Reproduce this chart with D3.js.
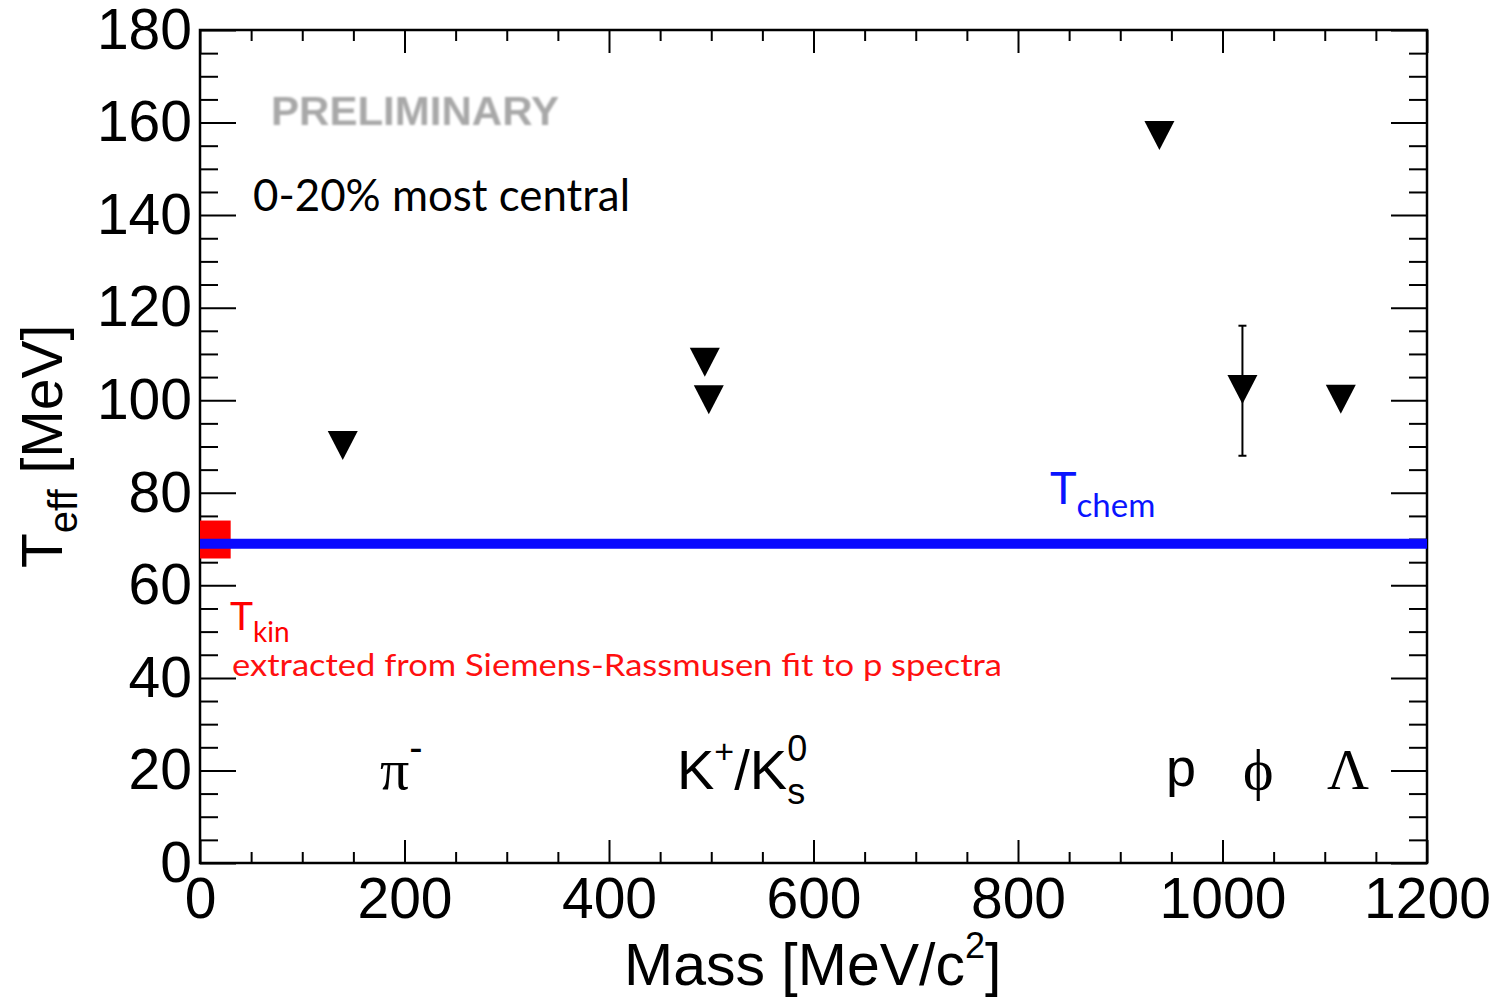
<!DOCTYPE html>
<html>
<head>
<meta charset="utf-8">
<script src="https://cdn.jsdelivr.net/npm/d3@7"></script>
<style>
  html, body { margin: 0; padding: 0; background: #fff; }
  svg { display: block; }
</style>
</head>
<body>
<svg id="chart"></svg>
<script>
// particle masses [MeV/c^2] and fitted effective temperatures [MeV]
const particles = ['pi-', 'K+', 'K0s', 'p', 'phi', 'Lambda'];
const masses = [139.6, 493.7, 497.6, 938.3, 1019.5, 1115.7];
const teff = [90.2, 108.2, 100.1, 157.2, 102.3, 100.2];
// only the phi has a visible error bar
const errLow = [null, null, null, null, 88.0, null];
const errHigh = [null, null, null, null, 116.1, null];

const tChem = 69.0;
const tKinBox = [0, 30, 65.8, 74.0]; // x0, x1, y0, y1

const xMajor = [0, 200, 400, 600, 800, 1000, 1200];
const yMajor = [0, 20, 40, 60, 80, 100, 120, 140, 160, 180];

const width = 1503, height = 999;
const svg = d3.select('#chart').attr('width', width).attr('height', height);

const x = d3.scaleLinear().domain([0, 1200]).range([200, 1427]);
const y = d3.scaleLinear().domain([0, 180]).range([863, 30]);

const sans = 'Liberation Sans, Arial, sans-serif';
const serif = 'Liberation Serif, Times New Roman, serif';
const cal = 'Lato, Open Sans, sans-serif';

// minor ticks
const xMinor = d3.range(0, 1201, 50).filter(v => v % 200 !== 0);
const yMinor = d3.range(0, 181, 5).filter(v => v % 20 !== 0);

function styleAxis(g) {
  g.select('.domain').remove();
  g.selectAll('.tick line').attr('stroke', '#000').attr('stroke-width', 2);
  g.selectAll('.tick text').attr('fill', '#000');
}

// bottom axis with labels
svg.append('g').attr('transform', `translate(0,${y(0)})`)
  .call(d3.axisBottom(x).tickValues(xMajor).tickFormat(d3.format('d'))
    .tickSizeInner(-23).tickSizeOuter(0).tickPadding(15))
  .call(styleAxis)
  .call(g => g.selectAll('.tick text').attr('font-family', sans).attr('font-size', 57));
svg.append('g').attr('transform', `translate(0,${y(0)})`)
  .call(d3.axisBottom(x).tickValues(xMinor).tickSizeInner(-11).tickSizeOuter(0).tickFormat(''))
  .call(styleAxis);
// top axis
svg.append('g').attr('transform', `translate(0,${y(180)})`)
  .call(d3.axisTop(x).tickValues(xMajor).tickSizeInner(-23).tickSizeOuter(0).tickFormat(''))
  .call(styleAxis);
svg.append('g').attr('transform', `translate(0,${y(180)})`)
  .call(d3.axisTop(x).tickValues(xMinor).tickSizeInner(-11).tickSizeOuter(0).tickFormat(''))
  .call(styleAxis);

// left axis with labels
svg.append('g').attr('transform', `translate(${x(0)},0)`)
  .call(d3.axisLeft(y).tickValues(yMajor).tickSizeInner(-36).tickSizeOuter(0).tickPadding(8))
  .call(styleAxis)
  .call(g => g.selectAll('.tick text').attr('font-family', sans).attr('font-size', 57));
svg.append('g').attr('transform', `translate(${x(0)},0)`)
  .call(d3.axisLeft(y).tickValues(yMinor).tickSizeInner(-18).tickSizeOuter(0).tickFormat(''))
  .call(styleAxis);
// right axis
svg.append('g').attr('transform', `translate(${x(1200)},0)`)
  .call(d3.axisRight(y).tickValues(yMajor).tickSizeInner(-36).tickSizeOuter(0).tickFormat(''))
  .call(styleAxis);
svg.append('g').attr('transform', `translate(${x(1200)},0)`)
  .call(d3.axisRight(y).tickValues(yMinor).tickSizeInner(-18).tickSizeOuter(0).tickFormat(''))
  .call(styleAxis);

// frame
svg.append('rect')
  .attr('x', x(0)).attr('y', y(180))
  .attr('width', x(1200) - x(0)).attr('height', y(0) - y(180))
  .attr('fill', 'none').attr('stroke', '#000').attr('stroke-width', 2.5);

// T_kin box and T_chem line
svg.append('rect')
  .attr('x', x(tKinBox[0])).attr('y', y(tKinBox[3]))
  .attr('width', x(tKinBox[1]) - x(tKinBox[0]))
  .attr('height', y(tKinBox[2]) - y(tKinBox[3]))
  .attr('fill', '#ff0000');

svg.append('line')
  .attr('x1', x(0)).attr('x2', x(1200))
  .attr('y1', y(tChem)).attr('y2', y(tChem))
  .attr('stroke', '#0a0aff').attr('stroke-width', 10);

// error bars
const data = particles.map((p, i) => ({ p, m: masses[i], t: teff[i], lo: errLow[i], hi: errHigh[i] }));
const eb = svg.append('g').attr('stroke', '#000').attr('stroke-width', 2);
data.filter(d => d.lo !== null).forEach(d => {
  eb.append('line').attr('x1', x(d.m)).attr('x2', x(d.m)).attr('y1', y(d.lo)).attr('y2', y(d.hi));
  eb.append('line').attr('x1', x(d.m) - 4).attr('x2', x(d.m) + 4).attr('y1', y(d.lo)).attr('y2', y(d.lo));
  eb.append('line').attr('x1', x(d.m) - 4).attr('x2', x(d.m) + 4).attr('y1', y(d.hi)).attr('y2', y(d.hi));
});

// downward triangle markers (30 wide, 29 high)
const triDown = {
  draw(ctx, size) {
    const w = 15, h = 14.5;
    ctx.moveTo(-w, -h);
    ctx.lineTo(w, -h);
    ctx.lineTo(0, h);
    ctx.closePath();
  }
};
svg.append('g').selectAll('path').data(data).join('path')
  .attr('transform', d => `translate(${x(d.m)},${y(d.t)})`)
  .attr('d', d3.symbol().type(triDown))
  .attr('fill', '#000');

// axis titles
svg.append('text')
  .attr('x', 624).attr('y', 985)
  .attr('font-family', sans).attr('font-size', 59).attr('fill', '#000')
  .call(t => {
    t.append('tspan').text('Mass [MeV/c');
    t.append('tspan').attr('font-size', 36).attr('dy', -27).text('2');
    t.append('tspan').attr('dy', 27).text(']');
  });

svg.append('text')
  .attr('transform', 'translate(62,568) rotate(-90)')
  .attr('font-family', sans).attr('font-size', 57).attr('fill', '#000')
  .call(t => {
    t.append('tspan').text('T');
    t.append('tspan').attr('font-size', 40).attr('dy', 15).text('eff');
    t.append('tspan').attr('dy', -15).text(' [MeV]');
  });

// PRELIMINARY watermark
const defs = svg.append('defs');
defs.append('filter').attr('id', 'blur').append('feGaussianBlur').attr('stdDeviation', 1.1);
svg.append('text')
  .attr('x', 271).attr('y', 125)
  .attr('font-family', sans).attr('font-weight', 'bold').attr('font-size', 40)
  .attr('fill', '#a8a8a8').attr('filter', 'url(#blur)')
  .attr('textLength', 288).attr('lengthAdjust', 'spacingAndGlyphs')
  .text('PRELIMINARY');

svg.append('text')
  .attr('x', 253).attr('y', 211)
  .attr('font-family', cal).attr('font-size', 44).attr('fill', '#000')
  .attr('textLength', 377).attr('lengthAdjust', 'spacingAndGlyphs')
  .text('0-20% most central');

// T_chem label
svg.append('text')
  .attr('x', 1050).attr('y', 504)
  .attr('font-family', cal).attr('font-size', 45).attr('fill', '#0a14ff')
  .call(t => {
    t.append('tspan').text('T');
    t.append('tspan').attr('font-size', 33).attr('dy', 13).text('chem');
  });

// T_kin label
svg.append('text')
  .attr('x', 230).attr('y', 630)
  .attr('font-family', cal).attr('font-size', 39).attr('fill', '#ff0000')
  .call(t => {
    t.append('tspan').text('T');
    t.append('tspan').attr('font-size', 28).attr('dy', 12).text('kin');
  });
svg.append('text')
  .attr('x', 232).attr('y', 676)
  .attr('font-family', cal).attr('font-size', 30).attr('fill', '#ff1010')
  .attr('textLength', 770).attr('lengthAdjust', 'spacingAndGlyphs')
  .text('extracted from Siemens-Rassmusen fit to p spectra');

// particle labels
const labelY = 789;
svg.append('text').attr('x', 380).attr('y', labelY)
  .attr('font-family', serif).attr('font-size', 58).attr('fill', '#000')
  .call(t => {
    t.append('tspan').text('π');
    t.append('tspan').attr('font-family', sans).attr('font-size', 40).attr('dy', -28).text('-');
  });

svg.append('text').attr('x', 677).attr('y', labelY)
  .attr('font-family', sans).attr('font-size', 56).attr('fill', '#000')
  .call(t => {
    t.append('tspan').text('K');
    t.append('tspan').attr('font-size', 34).attr('dy', -26).text('+');
    t.append('tspan').attr('dy', 26).text('/K');
    t.append('tspan').attr('font-size', 36).attr('dy', -28).text('0');
    t.append('tspan').attr('font-size', 36).attr('dx', -20).attr('dy', 43).text('s');
  });

svg.append('text').attr('x', 1166).attr('y', 786)
  .attr('font-family', sans).attr('font-size', 54).attr('fill', '#000').text('p');
svg.append('text').attr('x', 1243).attr('y', labelY)
  .attr('font-family', serif).attr('font-size', 58).attr('fill', '#000').text('ϕ');
svg.append('text').attr('x', 1327).attr('y', labelY)
  .attr('font-family', serif).attr('font-size', 58).attr('fill', '#000').text('Λ');
</script>
</body>
</html>
